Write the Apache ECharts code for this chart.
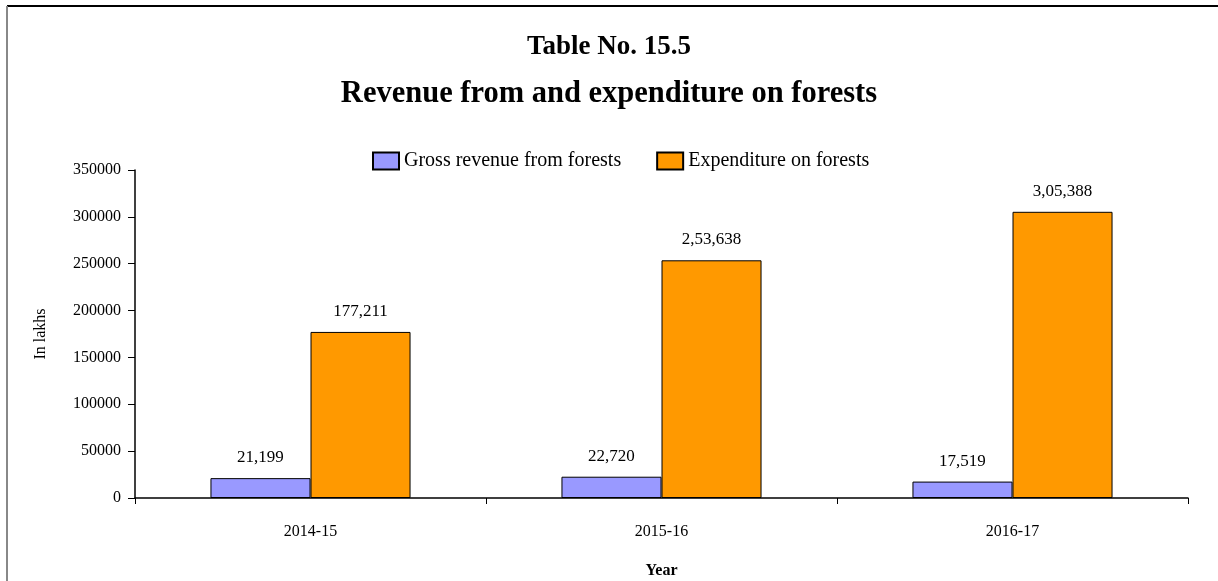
<!DOCTYPE html>
<html>
<head>
<meta charset="utf-8">
<script src="https://cdn.jsdelivr.net/npm/echarts@6/dist/echarts.min.js"></script>
<style>
  html, body { margin: 0; padding: 0; background: #fff; }
  #chart { width: 1218px; height: 581px; }
</style>
</head>
<body>
<div id="chart"></div>
<script>
const years = ['2014-15', '2015-16', '2016-17'];
const revenue = [21199, 22720, 17519];
const expenditure = [177211, 253638, 305388];
// labels as printed in the source table
const revenueLabels = ['21,199', '22,720', '17,519'];
const expenditureLabels = ['177,211', '2,53,638', '3,05,388'];

const font = 'Liberation Serif, Times New Roman, serif';

const myChart = echarts.init(document.getElementById('chart'));
const option = {
  backgroundColor: '#fff',
  textStyle: { fontFamily: font, color: '#000' },
  title: [
    {
      text: 'Table No. 15.5',
      left: 'center',
      top: 29,
      textStyle: { fontFamily: font, fontSize: 27, fontWeight: 'bold', color: '#000' },
    },
    {
      text: 'Revenue from and expenditure on forests',
      left: 'center',
      top: 74,
      textStyle: { fontFamily: font, fontSize: 30.5, fontWeight: 'bold', color: '#000' },
    },
  ],
  legend: {
    top: 146,
    left: 367,
    icon: 'rect',
    itemWidth: 26,
    itemHeight: 17,
    itemGap: 35,
    textStyle: { fontFamily: font, fontSize: 20, color: '#000' },
    data: ['Gross revenue from forests', 'Expenditure on forests'],
  },
  graphic: [
    { type: 'line', shape: { x1: 7, y1: 6, x2: 1218, y2: 6 }, style: { stroke: '#000', lineWidth: 2 } },
    { type: 'line', shape: { x1: 7, y1: 6, x2: 7, y2: 581 }, style: { stroke: '#888', lineWidth: 2 } },
  ],
  grid: { left: 135, right: 30, top: 170, bottom: 83, outerBoundsMode: 'none', containLabel: false },
  xAxis: {
    type: 'category',
    data: years,
    name: 'Year',
    nameLocation: 'middle',
    nameGap: 65,
    nameTextStyle: { fontFamily: font, fontSize: 16, fontWeight: 'bold', color: '#000' },
    axisLine: { lineStyle: { color: '#000', width: 1.5 } },
    axisTick: { show: true, length: 6, lineStyle: { color: '#000' } },
    axisLabel: { fontFamily: font, fontSize: 16, color: '#000', margin: 26 },
  },
  yAxis: {
    type: 'value',
    min: 0,
    max: 350000,
    interval: 50000,
    name: 'In lakhs',
    nameLocation: 'middle',
    nameRotate: 90,
    nameGap: 86,
    nameTextStyle: { fontFamily: font, fontSize: 16, color: '#000' },
    axisLine: { show: true, lineStyle: { color: '#000', width: 1.5 } },
    axisTick: { show: true, length: 7, lineStyle: { color: '#000' } },
    axisLabel: { fontFamily: font, fontSize: 16, color: '#000', margin: 14, formatter: (v) => String(v) },
    splitLine: { show: false },
  },
  series: [
    {
      name: 'Gross revenue from forests',
      type: 'bar',
      data: revenue,
      barGap: '0%',
      barCategoryGap: '43%',
      itemStyle: { color: '#9999ff', borderColor: '#000', borderWidth: 1 },
      label: {
        show: true,
        position: 'top',
        distance: 12,
        fontFamily: font,
        fontSize: 17,
        color: '#000',
        formatter: (p) => revenueLabels[p.dataIndex],
      },
    },
    {
      name: 'Expenditure on forests',
      type: 'bar',
      data: expenditure,
      itemStyle: { color: '#ff9900', borderColor: '#000', borderWidth: 1 },
      label: {
        show: true,
        position: 'top',
        distance: 12,
        fontFamily: font,
        fontSize: 17,
        color: '#000',
        formatter: (p) => expenditureLabels[p.dataIndex],
      },
    },
  ],
};
myChart.setOption(option);
</script>
</body>
</html>
